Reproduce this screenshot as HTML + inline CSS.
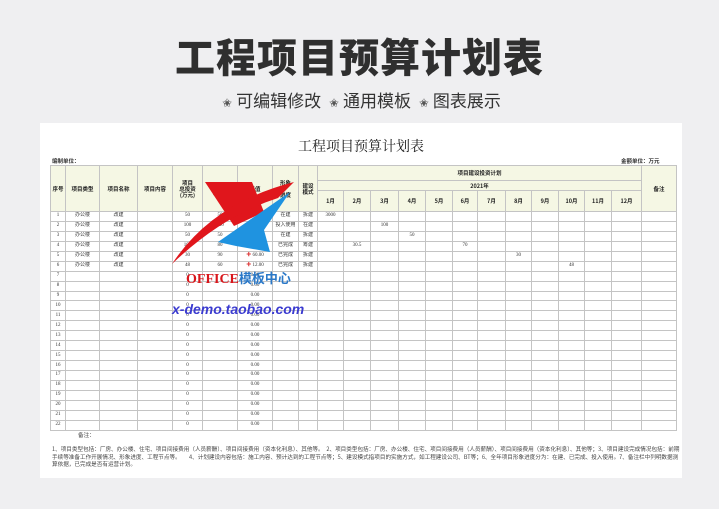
<!DOCTYPE html>
<html><head><meta charset="utf-8">
<style>
*{margin:0;padding:0;box-sizing:border-box}
body{width:719px;height:509px;background:#efeff1;position:relative;overflow:hidden;font-family:"Liberation Sans","Noto Sans CJK SC",sans-serif}
#big-title{position:absolute;left:0;width:719px;top:32px;text-align:center;font-size:40px;font-weight:900;color:#2f2f2f;letter-spacing:1px;font-family:"Noto Sans CJK SC",sans-serif;line-height:46px}
#subtitle{position:absolute;left:0;width:719px;top:89px;text-align:center;font-size:17px;color:#333;font-family:"Noto Sans CJK SC",sans-serif;line-height:22px}
#subtitle .st{font-size:12px;color:#555;margin:0 4px}
#card{position:absolute;left:40px;top:123px;width:642px;height:355px;background:#fff}
#sheet-title{position:absolute;left:40px;width:642px;top:136px;text-align:center;font-size:14px;font-family:"Liberation Serif","Noto Serif CJK SC",serif;color:#222}
.unit{position:absolute;top:157px;font-size:5.5px;font-weight:bold;color:#333;font-family:"Noto Sans CJK SC",sans-serif}
table{position:absolute;left:50px;top:165px;border-collapse:collapse;table-layout:fixed;width:626px;font-family:"Liberation Serif","Noto Sans CJK SC",serif}
td,th{border:0.6px solid #c4c4c4;font-size:5px;text-align:center;color:#333;overflow:hidden;white-space:nowrap;padding:0;line-height:6px}
th{background:#f5f7e4;font-weight:bold;color:#222;font-family:"Noto Sans CJK SC",sans-serif;font-size:5.5px}
tbody td{height:9.95px}
.up{color:#2a9d6a}.dn{color:#d33}
.notes{position:absolute;left:52px;width:628px;font-size:5.6px;color:#444;line-height:7.6px;font-family:"Noto Sans CJK SC",sans-serif}
#wm{position:absolute;left:0;top:0}
#wm-office{position:absolute;left:186px;top:268px;font-size:14px;font-weight:bold;font-family:"Liberation Serif","Noto Sans CJK SC",serif;color:#d8161b;letter-spacing:0}
#wm-office span{color:#2a78c8;font-family:"Noto Sans CJK SC",sans-serif;font-size:13px}
#wm-url{position:absolute;left:172px;top:301px;font-size:14px;font-weight:bold;font-style:italic;color:#3b3bd0;font-family:"Liberation Sans",sans-serif}
</style></head><body>
<div id="big-title">工程项目预算计划表</div>
<div id="subtitle"><span class="st">✬</span>可编辑修改 <span class="st">✬</span>通用模板 <span class="st">✬</span>图表展示</div>
<div id="card"></div>
<div id="sheet-title">工程项目预算计划表</div>
<div class="unit" style="left:52px">编制单位：</div>
<div class="unit" style="left:621px">金额单位：万元</div>
<table id="tbl">
<colgroup>
<col style="width:15px"><col style="width:34px"><col style="width:38px"><col style="width:35px"><col style="width:30px"><col style="width:35px"><col style="width:35px"><col style="width:26px"><col style="width:19px">
<col style="width:26px"><col style="width:27px"><col style="width:28px"><col style="width:27px"><col style="width:27px"><col style="width:25px"><col style="width:28px"><col style="width:26px"><col style="width:27px"><col style="width:26px"><col style="width:27px"><col style="width:30px"><col style="width:35px">
</colgroup>
<thead>
<tr style="height:15px">
<th rowspan="3">序号</th>
<th rowspan="3">项目类型</th>
<th rowspan="3">项目名称</th>
<th rowspan="3">项目内容</th>
<th rowspan="3">项目<br>总投资<br>(万元)</th>
<th rowspan="3">预算投资<br>(万元)</th>
<th rowspan="3">差值</th>
<th rowspan="3">形象<br><br>进度</th>
<th rowspan="3">建设<br>模式</th>
<th colspan="12">项目建设投资计划</th>
<th rowspan="3">备注</th>
</tr>
<tr style="height:10px"><th colspan="12">2021年</th></tr>
<tr style="height:21px" id="mrow"></tr>
</thead>
<tbody id="tb"></tbody>
</table>
<div class="notes" style="top:432px;left:78px">备注：</div>
<div class="notes" style="top:446px">1、项目类型包括：厂房、办公楼、住宅、项目间接费用（人员薪酬）、项目间接费用（资本化利息）、其他等。　2、项目类型包括：厂房、办公楼、住宅、项目间接费用（人员薪酬）、项目间接费用（资本化利息）、其他等；3、项目建设完成情况包括：前期手续等准备工作开展情况、形象进度、工程节点等。　　4、计划建设内容包括：施工内容、预计达到的工程节点等；5、建设模式指项目的实施方式，如工程建设公司、BT等；6、全年项目形象进度分为：在建、已完成、投入使用。7、备注栏中列明数据测算依据，已完成是否有运营计划。</div>
<svg id="wm" width="719" height="509">
<polygon points="205,182 252,182 264,212 234,226" fill="#e0161c"/>
<path d="M172,264 Q212,203 294,182 L278,198 Q222,216 172,264 Z" fill="#e0161c"/>
<polygon points="218,242 290,192 264,230 270,252 236,246" fill="#1f93e0"/>
</svg>
<div id="wm-office">OFFICE<span>模板中心</span></div>
<div id="wm-url">x-demo.taobao.com</div>
<script>
const months=["1月","2月","3月","4月","5月","6月","7月","8月","9月","10月","11月","12月"];
const types=["办公楼","办公楼","办公楼","办公楼","办公楼","办公楼"];
const names=["改建","改建","改建","改建","改建","改建"];
const totals=[50,100,50,100,30,48];
const plans=[50,100,50,80,90,60];
const diffs=["0.00","0.00","0.00","-20.50","60.00","12.00"];
const diffDir=["up","up","up","up","dn","dn"];
const progress=["在建","投入使用","在建","已完成","已完成","已完成"];
const modes=["拆建","在建","拆建","筹建","拆建","拆建"];
const monthVals=[{0:"3000"},{2:"100"},{3:"50"},{1:"30.5",5:"70"},{7:"30"},{9:"48"}];
const rowCount=22;
const mrow=document.getElementById('mrow');
months.forEach(function(m){const th=document.createElement('th');th.textContent=m;


mrow.appendChild(th);});
const tb=document.getElementById('tb');
for(let i=0;i<rowCount;i++){
  const tr=document.createElement('tr');
  
  
  const has=i<types.length;
  const cells=[String(i+1),has?types[i]:"",has?names[i]:"","",has?String(totals[i]):"0",has?String(plans[i]):"",null,has?progress[i]:"",has?modes[i]:""];
  for(let m=0;m<12;m++)cells.push(has&&monthVals[i][m]?monthVals[i][m]:"");
  cells.push("");
  cells.forEach(function(c,ci){
    const td=document.createElement('td');
    
    
    if(ci===6){
      if(has){td.innerHTML='<span class="'+diffDir[i]+'">✚</span> '+diffs[i];}
      else td.textContent='0.00';
    } else td.textContent=c;
    tr.appendChild(td);
  });
  tb.appendChild(tr);
}
</script>
</body></html>
